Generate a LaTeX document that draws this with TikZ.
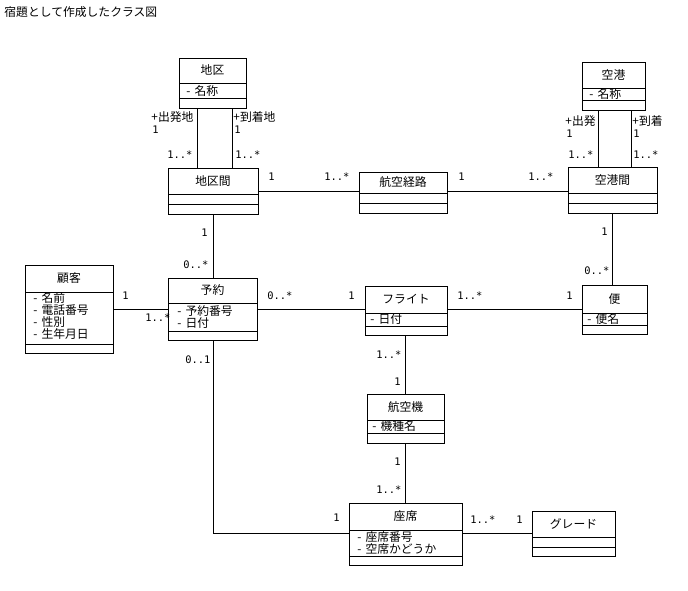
\documentclass[tikz,border=0pt]{standalone}
\usepackage{fontspec}
\setmainfont{Noto Sans CJK JP}
\newfontfamily\multfont{DejaVu Sans Mono}
\usetikzlibrary{fit}
\tikzset{
  clsbox/.style={draw, inner sep=0pt, outer sep=0pt},
  lbl/.style={inner sep=0pt, font=\fontsize{11.8}{12}\selectfont},
  attr/.style={lbl, anchor=west},
  role/.style={lbl, anchor=west},
  mult/.style={inner sep=0pt, anchor=west, font=\multfont\fontsize{10.4}{12}\selectfont},
  assoc/.style={draw}
}
\newcommand{\umlcls}[8]{%
  \node[clsbox, fit={(#2,#3) (#4,#7)}] (#1) {};
  \draw (#2,#5) -- (#4,#5) (#2,#6) -- (#4,#6);
  \node[lbl] (#1-t) at ({(#2+#4)/2},{(#3+#5)/2}) {#8};
}
\newcommand{\vis}{-\hspace{4pt}}
\begin{document}
\begin{tikzpicture}[x=1pt,y=-1pt,line width=0.9pt]
\useasboundingbox[fill=white] (0,0) rectangle (688,590);
\node[lbl, anchor=west] (title) at (4,12) {宿題として作成したクラス図};

% classes
\umlcls{chiku}{179}{58}{246}{83}{98}{108}{地区}
\node[attr] (chiku-a1) at (186,91) {\vis 名称};
\umlcls{chikukan}{168}{168}{258}{194}{204}{214}{地区間}
\umlcls{kuukou}{582}{62}{645}{88}{100}{110}{空港}
\node[attr] (kuukou-a1) at (589,94) {\vis 名称};
\umlcls{kuukoukan}{568}{167}{657}{193}{203}{213}{空港間}
\umlcls{kouro}{359}{172}{447}{193}{203}{213}{航空経路}
\umlcls{kokyaku}{25}{265}{113}{292}{344}{353}{顧客}
\node[attr] (kokyaku-a1) at (33,298) {\vis 名前};
\node[attr] (kokyaku-a2) at (33,310) {\vis 電話番号};
\node[attr] (kokyaku-a3) at (33,322) {\vis 性別};
\node[attr] (kokyaku-a4) at (33,334) {\vis 生年月日};
\umlcls{yoyaku}{168}{278}{257}{303}{331}{340}{予約}
\node[attr] (yoyaku-a1) at (177,311) {\vis 予約番号};
\node[attr] (yoyaku-a2) at (177,323) {\vis 日付};
\umlcls{flight}{365}{286}{447}{313}{326}{335}{フライト}
\node[attr] (flight-a1) at (370,319) {\vis 日付};
\umlcls{bin}{582}{285}{647}{313}{325}{334}{便}
\node[attr] (bin-a1) at (587,319) {\vis 便名};
\umlcls{kouki}{367}{394}{444}{420}{433}{443}{航空機}
\node[attr] (kouki-a1) at (372,426) {\vis 機種名};
\umlcls{zaseki}{349}{503}{462}{530}{556}{565}{座席}
\node[attr] (zaseki-a1) at (357,537) {\vis 座席番号};
\node[attr] (zaseki-a2) at (357,549) {\vis 空席かどうか};
\umlcls{grade}{532}{511}{615}{537}{547}{556}{グレード}

% helper coordinates
\coordinate (vA) at (197,0);
\coordinate (vB) at (232,0);
\coordinate (vC) at (598,0);
\coordinate (vD) at (631,0);
\coordinate (vE) at (213,0);
\coordinate (vF) at (612,0);
\coordinate (vG) at (405,0);
\coordinate (hA) at (0,191);
\coordinate (hB) at (0,309);
\coordinate (hC) at (0,533);

% associations
\draw[assoc] (chiku.south -| vA) -- (chikukan.north -| vA);
\draw[assoc] (chiku.south -| vB) -- (chikukan.north -| vB);
\draw[assoc] (kuukou.south -| vC) -- (kuukoukan.north -| vC);
\draw[assoc] (kuukou.south -| vD) -- (kuukoukan.north -| vD);
\draw[assoc] (chikukan.east |- hA) -- (kouro.west |- hA);
\draw[assoc] (kouro.east |- hA) -- (kuukoukan.west |- hA);
\draw[assoc] (chikukan.south -| vE) -- (yoyaku.north -| vE);
\draw[assoc] (kokyaku.east |- hB) -- (yoyaku.west |- hB);
\draw[assoc] (yoyaku.east |- hB) -- (flight.west |- hB);
\draw[assoc] (flight.east |- hB) -- (bin.west |- hB);
\draw[assoc] (kuukoukan.south -| vF) -- (bin.north -| vF);
\draw[assoc] (flight.south -| vG) -- (kouki.north -| vG);
\draw[assoc] (kouki.south -| vG) -- (zaseki.north -| vG);
\draw[assoc] (yoyaku.south -| vE) |- (zaseki.west |- hC);
\draw[assoc] (zaseki.east |- hC) -- (grade.west |- hC);

% multiplicities and roles
\node[role] (m1) at (151,117) {+出発地};
\node[mult] (m2) at (152,130) {1};
\node[mult] (m3) at (167,155) {1..*};
\node[role] (m4) at (233,117) {+到着地};
\node[mult] (m5) at (234,130) {1};
\node[mult] (m6) at (235,155) {1..*};
\node[role] (m7) at (565,121) {+出発};
\node[mult] (m8) at (566,134) {1};
\node[mult] (m9) at (568,155) {1..*};
\node[role] (m10) at (632,121) {+到着};
\node[mult] (m11) at (633,134) {1};
\node[mult] (m12) at (633,155) {1..*};
\node[mult] (m13) at (268,177) {1};
\node[mult] (m14) at (324,177) {1..*};
\node[mult] (m15) at (458,177) {1};
\node[mult] (m16) at (528,177) {1..*};
\node[mult] (m17) at (201,233) {1};
\node[mult] (m18) at (183,265) {0..*};
\node[mult] (m19) at (122,296) {1};
\node[mult] (m20) at (145,318) {1..*};
\node[mult] (m21) at (185,360) {0..1};
\node[mult] (m22) at (267,296) {0..*};
\node[mult] (m23) at (348,296) {1};
\node[mult] (m24) at (457,296) {1..*};
\node[mult] (m25) at (566,296) {1};
\node[mult] (m26) at (601,232) {1};
\node[mult] (m27) at (584,271) {0..*};
\node[mult] (m28) at (376,355) {1..*};
\node[mult] (m29) at (394,382) {1};
\node[mult] (m30) at (394,462) {1};
\node[mult] (m31) at (376,490) {1..*};
\node[mult] (m32) at (333,518) {1};
\node[mult] (m33) at (470,520) {1..*};
\node[mult] (m34) at (516,520) {1};
\end{tikzpicture}
\end{document}
